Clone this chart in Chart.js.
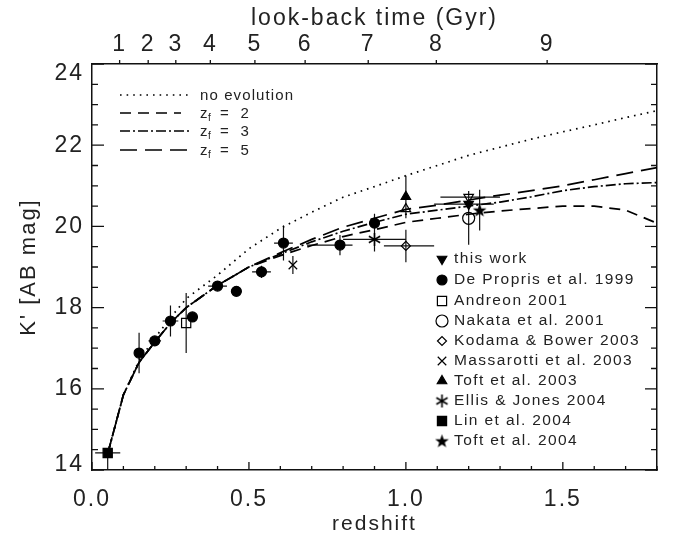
<!DOCTYPE html>
<html><head><meta charset="utf-8">
<style>html,body{margin:0;padding:0;background:#fff}canvas{display:block}</style>
<script src="https://cdn.jsdelivr.net/npm/chart.js@4"></script>
</head><body><canvas id="c" width="673" height="538"></canvas>
<script>
// ---- model curves ----
const curveZ      = [0.05,0.1,0.15,0.2,0.25,0.3,0.4,0.5,0.6,0.7,0.8,0.9,1.0,1.1,1.2,1.3,1.4,1.5,1.6,1.7,1.8];
const noEvolution = [14.4,15.85,16.7,17.25,17.75,18.22,18.8,19.45,19.95,20.35,20.72,20.98,21.25,21.5,21.75,21.95,22.15,22.33,22.5,22.68,22.85];
const zf2 = [14.4,15.85,16.65,17.15,17.62,18.0,18.55,19.0,19.28,19.53,19.75,19.92,20.1,20.2,20.3,20.38,20.44,20.5,20.5,20.4,20.08];
const zf3 = [14.4,15.85,16.65,17.15,17.62,18.0,18.55,19.0,19.32,19.62,19.88,20.1,20.3,20.4,20.5,20.6,20.73,20.88,20.98,21.05,21.08];
const zf5 = [14.4,15.85,16.65,17.15,17.62,18.0,18.55,19.0,19.35,19.68,19.98,20.2,20.42,20.52,20.65,20.77,20.88,21.0,21.15,21.3,21.45];
// ---- observations: z, K, K error, z error low, z error high ----
const thisWorkZ=[1.2], thisWorkK=[20.55], thisWorkKe=[0.3], thisWorkZl=[0.11], thisWorkZh=[0.08];
const thisWorkOpenZ=[1.2], thisWorkOpenK=[20.72], thisWorkOpenKe=[0.15], thisWorkOpenZl=[0.09], thisWorkOpenZh=[0.1];
const deProprisZ =[0.15,0.2,0.25,0.32,0.4,0.46,0.54,0.61,0.79,0.9];
const deProprisK =[16.88,17.18,17.67,17.77,18.53,18.4,18.88,19.59,19.54,20.08];
const deProprisKe=[0.5,0.1,0.38,0.05,0.05,0.05,0.15,0.43,0.25,0.23];
const deProprisZl=[0,0.02,0.025,0.017,0.03,0,0.03,0.03,0.105,0.01];
const deProprisZh=[0,0.02,0.025,0.017,0.03,0,0.03,0.03,0.04,0.01];
const andreonZ=[0.3], andreonK=[17.62], andreonKe=[0.74], andreonZl=[0], andreonZh=[0];
const nakataZ=[1.2], nakataK=[20.2], nakataKe=[0.65], nakataZl=[0], nakataZh=[0];
const kodamaZ=[1.0], kodamaK=[19.52], kodamaKe=[0.4], kodamaZl=[0.07], kodamaZh=[0.09];
const massarottiZ=[0.64], massarottiK=[19.05], massarottiKe=[0.22], massarottiZl=[0], massarottiZh=[0];
const toft03Z=[1.0], toft03K=[20.73], toft03Ke=[0.52], toft03Zl=[0], toft03Zh=[0];
const toft03OpenZ=[1.0], toft03OpenK=[20.43], toft03OpenKe=[0.23], toft03OpenZl=[0], toft03OpenZh=[0];
const ellisZ=[0.9], ellisK=[19.68], ellisKe=[0.3], ellisZl=[0.1], ellisZh=[0.1];
const linZ=[0.05], linK=[14.42], linKe=[0.42], linKeUp=[0], linZl=[0.04], linZh=[0.04];
const toft04Z=[1.235], toft04K=[20.4], toft04Ke=[0.5], toft04Zl=[0], toft04Zh=[0];
// ---- axes ----
const lookBackLabels=["1","2","3","4","5","6","7","8","9"];
const lookBackZ=[0.088,0.179,0.267,0.377,0.519,0.679,0.88,1.097,1.45];
const lineLegend=[["no evolution",""],["z","f"],["z","f"],["z","f"]];
const lineLegendTail=["","=  2","=  3","=  5"];

const FONT='"Liberation Sans"', INK='#222';

function shape(size,draw){const c=document.createElement('canvas');c.width=c.height=size;const g=c.getContext('2d');draw(g,size/2);return c;}
const star5=shape(15,(g,m)=>{g.beginPath();for(let i=0;i<10;i++){const r=i%2?2.9:7.2,a=-Math.PI/2+i*Math.PI/5;g.lineTo(m+r*Math.cos(a),m+0.5+r*Math.sin(a));}g.closePath();g.fillStyle='#000';g.fill();});
const aster6=shape(15,(g,m)=>{g.strokeStyle='#000';g.lineWidth=1.6;g.beginPath();for(let i=0;i<3;i++){const a=Math.PI/2+i*Math.PI/3,r=6.5;g.moveTo(m-r*Math.cos(a),m-r*Math.sin(a));g.lineTo(m+r*Math.cos(a),m+r*Math.sin(a));}g.stroke();});

const markers={
 thisWork:{pointStyle:'triangle',rotation:180,radius:5.5,fill:true},
 thisWorkOpen:{pointStyle:'triangle',rotation:180,radius:5.5,fill:false},
 dePropris:{pointStyle:'circle',radius:5,fill:true},
 andreon:{pointStyle:'rect',radius:6.5,fill:false},
 nakata:{pointStyle:'circle',radius:6,fill:false},
 kodama:{pointStyle:'rectRot',radius:4.5,fill:false},
 massarotti:{pointStyle:'crossRot',radius:6,fill:false},
 toft03:{pointStyle:'triangle',radius:5.5,fill:true},
 toft03Open:{pointStyle:'triangle',radius:5.5,fill:false},
 ellis:{pointStyle:aster6,radius:6,fill:true},
 lin:{pointStyle:'rect',radius:6.5,fill:true},
 toft04:{pointStyle:star5,radius:7,fill:true}
};
function curve(label,ys,dash){return {type:'line',label,data:curveZ.map((x,i)=>({x,y:ys[i]})),borderColor:'#000',borderWidth:1.7,borderDash:dash,pointRadius:0,tension:0,fill:false,order:5};}
function obs(label,m,zs,ks,ke,zl,zh,keUp){const s=markers[m];return {type:'scatter',label,marker:m,data:zs.map((x,i)=>({x,y:ks[i]})),ke,keUp:keUp||ke,zl,zh,showLine:false,
  pointStyle:s.pointStyle,pointRotation:s.rotation||0,pointRadius:s.radius,pointBackgroundColor:s.fill?'#000':'rgba(0,0,0,0)',pointBorderColor:'#000',pointBorderWidth:1.2,order:1};}

const dashNo=[1.6,5],dash2=[11,7],dash3=[10,3,2,3],dash5=[17,8];
const datasets=[
 curve('no evolution',noEvolution,dashNo),curve('zf = 2',zf2,dash2),curve('zf = 3',zf3,dash3),curve('zf = 5',zf5,dash5),
 obs('this work','thisWork',thisWorkZ,thisWorkK,thisWorkKe,thisWorkZl,thisWorkZh),
 obs('this work (open)','thisWorkOpen',thisWorkOpenZ,thisWorkOpenK,thisWorkOpenKe,thisWorkOpenZl,thisWorkOpenZh),
 obs('De Propris et al. 1999','dePropris',deProprisZ,deProprisK,deProprisKe,deProprisZl,deProprisZh),
 obs('Andreon 2001','andreon',andreonZ,andreonK,andreonKe,andreonZl,andreonZh),
 obs('Nakata et al. 2001','nakata',nakataZ,nakataK,nakataKe,nakataZl,nakataZh),
 obs('Kodama & Bower 2003','kodama',kodamaZ,kodamaK,kodamaKe,kodamaZl,kodamaZh),
 obs('Massarotti et al. 2003','massarotti',massarottiZ,massarottiK,massarottiKe,massarottiZl,massarottiZh),
 obs('Toft et al. 2003','toft03',toft03Z,toft03K,toft03Ke,toft03Zl,toft03Zh),
 obs('Toft et al. 2003 (open)','toft03Open',toft03OpenZ,toft03OpenK,toft03OpenKe,toft03OpenZl,toft03OpenZh),
 obs('Ellis & Jones 2004','ellis',ellisZ,ellisK,ellisKe,ellisZl,ellisZh),
 obs('Lin et al. 2004','lin',linZ,linK,linKe,linZl,linZh,linKeUp),
 obs('Toft et al. 2004','toft04',toft04Z,toft04K,toft04Ke,toft04Zl,toft04Zh)
];
const obsLegend=['thisWork','dePropris','andreon','nakata','kodama','massarotti','toft03','ellis','lin','toft04'];

const frame={id:'frame',
 beforeDraw(ch){ch.ctx.letterSpacing='2px';},
 beforeDatasetsDraw(ch){
  const {ctx,chartArea:a,scales:s}=ch;
  ctx.save();ctx.beginPath();ctx.rect(a.left,a.top,a.right-a.left,a.bottom-a.top);ctx.clip();
  ctx.strokeStyle='#111';ctx.lineWidth=1.2;ctx.beginPath();
  ch.data.datasets.forEach(d=>{ if(!d.ke)return; d.data.forEach((p,i)=>{
    const px=s.x.getPixelForValue(p.x),py=s.y.getPixelForValue(p.y);
    if(d.ke[i]){ctx.moveTo(px,s.y.getPixelForValue(p.y-d.ke[i]));ctx.lineTo(px,s.y.getPixelForValue(p.y+d.keUp[i]));}
    if(d.zl[i]||d.zh[i]){ctx.moveTo(s.x.getPixelForValue(p.x-d.zl[i]),py);ctx.lineTo(s.x.getPixelForValue(p.x+d.zh[i]),py);}
  });});
  ctx.stroke();ctx.restore();
 },
 afterDraw(ch){
  const {ctx,chartArea:a,scales:s}=ch;
  ctx.save();ctx.strokeStyle='#111';ctx.lineWidth=1.3;ctx.beginPath();
  s.y.ticks.forEach(t=>{const y=s.y.getPixelForValue(t.value),L=(t.value%2===0)?12:6;
    ctx.moveTo(a.left,y);ctx.lineTo(a.left+L,y);ctx.moveTo(a.right,y);ctx.lineTo(a.right-L,y);});
  s.x.ticks.forEach(t=>{const x=s.x.getPixelForValue(t.value),m=Math.abs(t.value*2-Math.round(t.value*2))<1e-6,L=m?8:4;
    ctx.moveTo(x,a.bottom);ctx.lineTo(x,a.bottom-L);});
  s.x2.ticks.forEach(t=>{const x=s.x2.getPixelForValue(t.value);ctx.moveTo(x,a.top);ctx.lineTo(x,a.top-4);});
  ctx.stroke();
  // legends
  ctx.fillStyle=INK;ctx.textBaseline='middle';ctx.textAlign='left';
  const ys=[95,113,131,150],dashes=[dashNo,dash2,dash3,dash5];
  ys.forEach((y,i)=>{
    ctx.strokeStyle='#000';ctx.lineWidth=1.5;ctx.setLineDash(dashes[i]);ctx.beginPath();ctx.moveTo(120,y);ctx.lineTo(i===1?181:189,y);ctx.stroke();ctx.setLineDash([]);
    ctx.letterSpacing='1.1px';ctx.font='15px '+FONT;
    if(i===0){ctx.fillText(lineLegend[0][0],200,y+1);return;}
    ctx.fillText(lineLegend[i][0],200,y+1);
    ctx.font='10px '+FONT;ctx.fillText(lineLegend[i][1],208,y+5);
    ctx.font='15px '+FONT;ctx.fillText(lineLegendTail[i],220,y+1);
  });
  const rowY=[259,280,301,321,341,361,381,401,421,441];
  ctx.letterSpacing='1.4px';
  obsLegend.forEach((m,i)=>{
    const st=markers[m],lab=ch.data.datasets.find(d=>d.marker===m).label;
    ctx.fillStyle=st.fill?'#000':'rgba(0,0,0,0)';ctx.strokeStyle='#000';ctx.lineWidth=1.2;
    Chart.helpers.drawPoint(ctx,{pointStyle:st.pointStyle,rotation:st.rotation||0,radius:st.radius,borderWidth:1.2},442,rowY[i]);
    ctx.fillStyle=INK;ctx.font='15.5px '+FONT;ctx.fillText(lab,454,rowY[i]);
  });
  ctx.restore();
 }};

new Chart(document.getElementById('c'),{
 data:{datasets},
 plugins:[frame],
 options:{responsive:false,animation:false,devicePixelRatio:1,events:[],
  layout:{padding:{left:0,right:9,top:0,bottom:0}},
  plugins:{legend:{display:false},tooltip:{enabled:false}},
  scales:{
   x:{type:'linear',position:'bottom',min:0,max:1.8,
      afterFit:s=>{s.height=68;},
      grid:{display:false,drawTicks:false},border:{display:true,color:'#111',width:1.5},
      ticks:{stepSize:0.1,autoSkip:false,maxRotation:0,padding:16,color:INK,font:{family:FONT,size:23},
        callback:v=>{const m=Math.abs(v*2-Math.round(v*2))<1e-6;return m?v.toFixed(1):'';}},
      title:{display:true,text:'redshift',color:INK,font:{family:FONT,size:21},padding:{top:0,bottom:1}}},
   x2:{type:'linear',position:'top',min:0,max:1.8,
      afterFit:s=>{s.height=64;},
      afterBuildTicks:s=>{s.ticks=lookBackZ.map(value=>({value}));},
      grid:{display:false,drawTicks:false},border:{display:true,color:'#111',width:1.5},
      ticks:{autoSkip:false,maxRotation:0,padding:6,color:INK,font:{family:FONT,size:23},
        callback:(v,i)=>lookBackLabels[i]},
      title:{display:true,text:'look-back time (Gyr)',color:INK,font:{family:FONT,size:23},padding:{top:5,bottom:0}}},
   y:{type:'linear',position:'left',min:14,max:24,
      afterFit:s=>{s.width=92;},
      grid:{display:false,drawTicks:false},border:{display:true,color:'#111',width:1.5},
      ticks:{stepSize:0.5,autoSkip:false,padding:8,color:INK,
        font:c=>{const v=c.tick&&c.tick.value;return {family:FONT,size:23,lineHeight:v===14?0.45:v===24?0.85:1};},
        callback:v=>{if(v%2!==0)return '';if(v===14)return ['14',''];if(v===24)return ['','24'];return String(v);}},
      title:{display:true,text:"K' [AB mag]",color:INK,font:{family:FONT,size:22},padding:{top:16,bottom:0}}},
   y2:{type:'linear',position:'right',min:14,max:24,
      afterFit:s=>{s.width=0;},
      grid:{display:false,drawTicks:false},border:{display:true,color:'#111',width:1.5},
      ticks:{display:false}}
  },
  elements:{line:{borderCapStyle:'butt'}}
 }
});
</script></body></html>
